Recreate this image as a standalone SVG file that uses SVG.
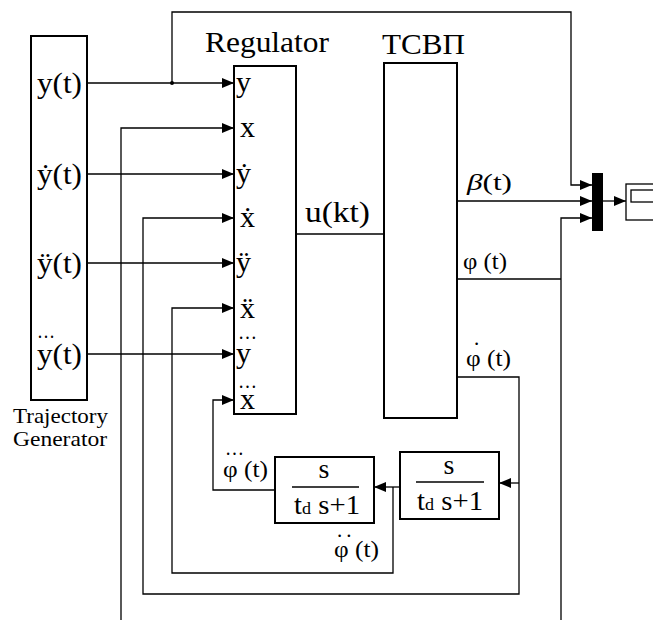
<svg xmlns="http://www.w3.org/2000/svg" width="653" height="620" viewBox="0 0 653 620">
<defs>
<marker id="ah" viewBox="0 0 12 10" refX="12" refY="5" markerWidth="12" markerHeight="10" markerUnits="userSpaceOnUse" orient="auto">
<path d="M0,0 L12,5 L0,10 Z" fill="#000"/>
</marker>
</defs>
<style>
.blk{fill:#fff;stroke:#000;stroke-width:2}
.ln{fill:none;stroke:#000;stroke-width:1.3}
.ar{fill:none;stroke:#000;stroke-width:1.3;marker-end:url(#ah)}
.t{font-family:"Liberation Serif","Times New Roman",serif;fill:#000}
.big{font-size:30px}
.mid{font-size:23px}
.sml{font-size:21px}
.dot{font-family:"Liberation Serif",serif;font-size:21px;fill:#000}
</style>
<rect width="653" height="620" fill="#fff"/>

<g id="connectors">
<path class="ar" d="M87,83 H234"/>
<path class="ar" d="M172,83 V12 H571 V185 H592"/>
<circle cx="172" cy="83" r="2" fill="#000"/>
<path class="ar" d="M121,620 V128 H234"/>
<path class="ar" d="M87,174 H234"/>
<path class="ar" d="M457,377 H519 V594 H143 V218 H234"/>
<path class="ar" d="M87,263 H234"/>
<path class="ar" d="M393,487 V573 H172 V308 H234"/>
<path class="ar" d="M87,354 H234"/>
<path class="ar" d="M275,490 H213 V400 H234"/>
<path class="ar" d="M519,483 H499"/>
<path class="ar" d="M400,487 H374"/>
<path class="ln" d="M296,234 H384"/>
<path class="ar" d="M457,201 H592"/>
<path class="ln" d="M457,279 H561"/>
<path class="ar" d="M561,620 V218 H592"/>
<path class="ar" d="M603,201 H626"/>
</g>

<g id="trajectory-generator">
<rect class="blk" x="31" y="36" width="56" height="364"/>
<text class="t big" x="37" y="93" textLength="45" lengthAdjust="spacingAndGlyphs">y(t)</text>
<text class="t big" x="37" y="184" textLength="45" lengthAdjust="spacingAndGlyphs">ẏ(t)</text>
<text class="t big" x="37" y="273" textLength="45" lengthAdjust="spacingAndGlyphs">ÿ(t)</text>
<text class="t big" x="37" y="364" textLength="45" lengthAdjust="spacingAndGlyphs">y(t)</text>
<text class="dot" x="37" y="338" textLength="18" lengthAdjust="spacingAndGlyphs">…</text>
<text class="t sml" x="13" y="423" textLength="95" lengthAdjust="spacingAndGlyphs">Trajectory</text>
<text class="t sml" x="13" y="446" textLength="94" lengthAdjust="spacingAndGlyphs">Generator</text>
</g>

<g id="regulator">
<text class="t big" x="205" y="52" textLength="124" lengthAdjust="spacingAndGlyphs">Regulator</text>
<rect class="blk" x="234" y="66" width="62" height="348"/>
<text class="t big" x="236" y="92">y</text>
<text class="t big" x="240" y="137">x</text>
<text class="t big" x="236" y="183">ẏ</text>
<text class="t big" x="240" y="227">ẋ</text>
<text class="t big" x="236" y="272">ÿ</text>
<text class="t big" x="240" y="318">ẍ</text>
<text class="t big" x="236" y="363">y</text>
<text class="dot" x="238" y="339" textLength="19" lengthAdjust="spacingAndGlyphs">…</text>
<text class="t big" x="240" y="409">x</text>
<text class="dot" x="238" y="388" textLength="19" lengthAdjust="spacingAndGlyphs">…</text>
<text class="t big" x="305" y="222" textLength="65" lengthAdjust="spacingAndGlyphs">u(kt)</text>
</g>

<g id="tcvp">
<text class="t big" x="382" y="54" textLength="83" lengthAdjust="spacingAndGlyphs">ТСВП</text>
<rect class="blk" x="384" y="63" width="73" height="355"/>
<text class="t mid" x="467" y="190" textLength="45" lengthAdjust="spacingAndGlyphs"><tspan font-style="italic">β</tspan>(t)</text>
<text class="t mid" x="463" y="269" textLength="44" lengthAdjust="spacingAndGlyphs">φ (t)</text>
<text class="t mid" x="466" y="366" textLength="45" lengthAdjust="spacingAndGlyphs">φ (t)</text>
<text class="dot" x="474" y="345">.</text>
</g>

<g id="mux">
<rect x="592" y="173" width="11" height="58" fill="#000"/>
</g>

<g id="scope">
<rect x="626" y="184" width="30" height="36" fill="#fff" stroke="#000" stroke-width="1.3"/>
<rect x="631" y="190" width="25" height="12" fill="none" stroke="#000" stroke-width="1.3"/>
</g>

<g id="filter-left">
<rect class="blk" x="275" y="457" width="99" height="66"/>
<text class="t" font-size="28" x="324" y="478" text-anchor="middle">s</text>
<line x1="292" y1="487" x2="359" y2="487" stroke="#000" stroke-width="1.5"/>
<text class="t" font-size="27" x="294" y="514" textLength="66" lengthAdjust="spacingAndGlyphs">t<tspan font-size="17">d</tspan> s+1</text>
<text class="t mid" x="223" y="477" textLength="45" lengthAdjust="spacingAndGlyphs">φ (t)</text>
<text class="dot" x="225" y="455" textLength="19" lengthAdjust="spacingAndGlyphs">…</text>
</g>

<g id="filter-right">
<rect class="blk" x="400" y="452" width="99" height="67"/>
<text class="t" font-size="28" x="449" y="474" text-anchor="middle">s</text>
<line x1="416" y1="482" x2="484" y2="482" stroke="#000" stroke-width="1.5"/>
<text class="t" font-size="27" x="417" y="510" textLength="66" lengthAdjust="spacingAndGlyphs">t<tspan font-size="17">d</tspan> s+1</text>
<text class="t mid" x="334" y="557" textLength="45" lengthAdjust="spacingAndGlyphs">φ (t)</text>
<text class="dot" x="337" y="537" letter-spacing="4">..</text>
</g>
</svg>
